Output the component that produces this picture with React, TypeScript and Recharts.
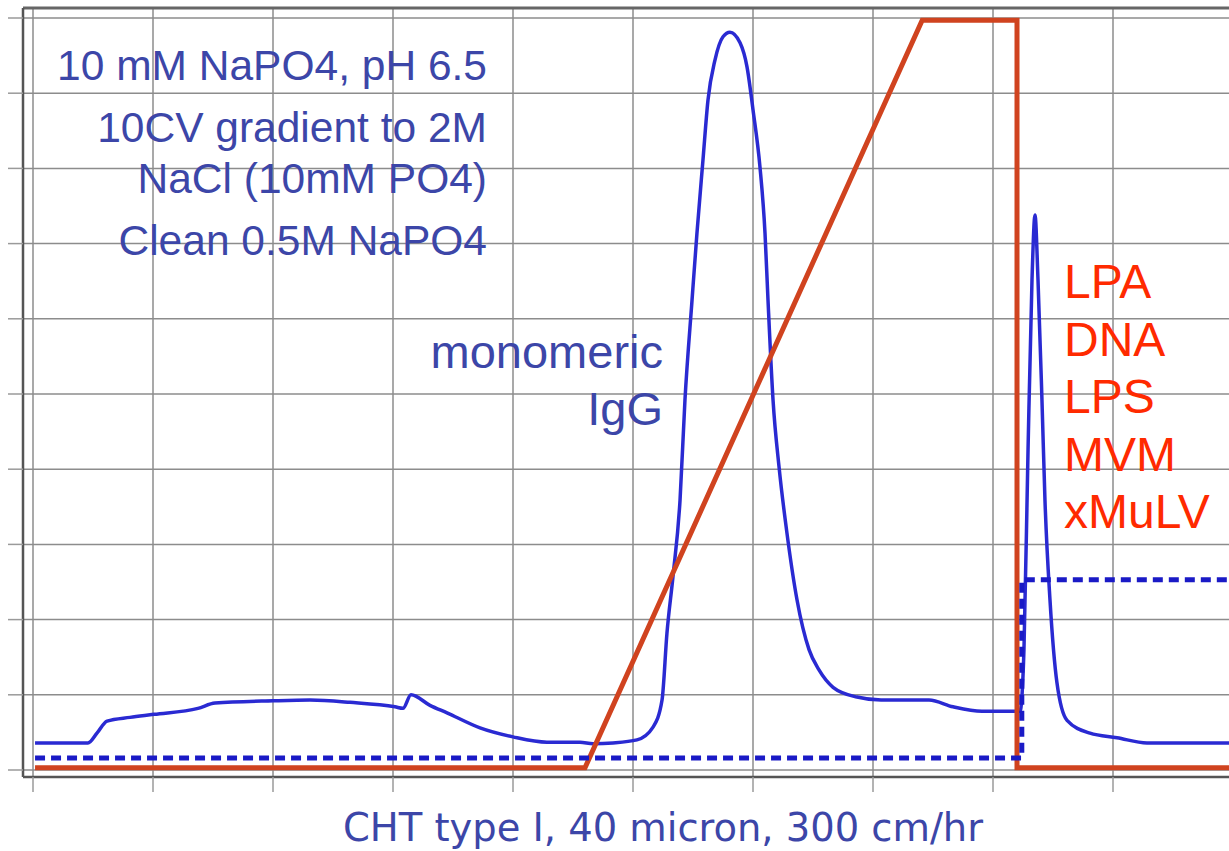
import React from 'react';
import { ComposedChart, Line, XAxis, YAxis, CartesianGrid, ReferenceLine } from 'recharts';

// x in column volumes (grid units), y in grid units
const uvX = [0.017, 0.458, 0.533, 0.617, 0.808, 1.008, 1.375, 1.517, 2.0, 2.308, 2.642, 3.017, 3.083, 3.15, 3.308, 3.45, 3.725, 4.0, 4.283, 4.558, 4.667, 4.833, 5.033, 5.167, 5.242, 5.283, 5.333, 5.392, 5.433, 5.492, 5.533, 5.583, 5.625, 5.683, 5.75, 5.808, 5.892, 5.95, 6.0, 6.058, 6.1, 6.125, 6.167, 6.217, 6.283, 6.367, 6.467, 6.55, 6.667, 6.867, 7.067, 7.467, 7.667, 7.908, 8.225, 8.258, 8.292, 8.325, 8.35, 8.375, 8.408, 8.433, 8.475, 8.533, 8.617, 8.808, 9.033, 9.283, 10.2];
const uvY = [0.36, 0.36, 0.49, 0.65, 0.7, 0.74, 0.82, 0.89, 0.92, 0.93, 0.9, 0.84, 0.82, 1.0, 0.86, 0.76, 0.56, 0.44, 0.37, 0.37, 0.35, 0.36, 0.4, 0.57, 0.93, 1.82, 2.57, 3.59, 4.92, 6.25, 7.14, 8.11, 8.91, 9.44, 9.75, 9.81, 9.67, 9.35, 8.78, 8.02, 7.14, 6.25, 4.92, 4.03, 3.15, 2.26, 1.6, 1.33, 1.1, 0.97, 0.93, 0.93, 0.84, 0.78, 0.78, 1.6, 4.26, 6.52, 7.38, 6.52, 4.92, 3.59, 2.26, 1.16, 0.66, 0.49, 0.43, 0.36, 0.36];

const gradX = [0.017, 4.6, 7.41, 8.2, 8.2, 10.2];
const gradY = [0.03, 0.03, 9.97, 9.97, 0.03, 0.03];

const condX = [0.017, 8.24, 8.24, 10.2];
const condY = [0.16, 0.16, 2.53, 2.53];

const xTicks = [0, 1, 2, 3, 4, 5, 6, 7, 8, 9, 10];
const yTicks = [0, 1, 2, 3, 4, 5, 6, 7, 8, 9, 10];

const bufferLines = ['10 mM NaPO4, pH 6.5', '10CV gradient to 2M', 'NaCl (10mM PO4)', 'Clean 0.5M NaPO4'];
const peakLabel = ['monomeric', 'IgG'];
const contaminants = ['LPA', 'DNA', 'LPS', 'MVM', 'xMuLV'];
const title = 'CHT type I, 40 micron, 300 cm/hr';

const uvData = uvX.map((x, i) => ({ x, y: uvY[i] }));
const gradData = gradX.map((x, i) => ({ x, y: gradY[i] }));
const condData = condX.map((x, i) => ({ x, y: condY[i] }));

const X_MIN = -10 / 120;
const X_MAX = X_MIN + 1237 / 120;
const Y_MIN = -7 / 75.2;
const Y_MAX = Y_MIN + 769 / 75.2;

const TEXT_BLUE = '#3c46a8';
const RED_TEXT = '#ff2a00';

export default function App() {
  const bufferBaselines = [80, 142, 193, 255];
  const peakBaselines = [368, 425];
  const contBaselines = [298, 356, 413, 471, 528];
  return (
    <div style={{ position: 'absolute', left: 0, top: 0, width: 1229, height: 851, overflow: 'hidden', background: '#fff' }}>
      <ComposedChart width={1260} height={851} margin={{ top: 8, right: 0, bottom: 0, left: 8 }}>
        <CartesianGrid stroke="#8c8c8c" strokeWidth={1.5} horizontalValues={yTicks} verticalValues={xTicks} />
        <XAxis
          type="number"
          dataKey="x"
          domain={[X_MIN, X_MAX]}
          ticks={xTicks}
          allowDataOverflow
          height={74}
          tickSize={15}
          tickFormatter={() => ''}
          axisLine={{ stroke: '#555', strokeWidth: 2.5 }}
          tickLine={{ stroke: '#9a9a9a', strokeWidth: 1.5 }}
        />
        <YAxis
          type="number"
          dataKey="y"
          domain={[Y_MIN, Y_MAX]}
          ticks={yTicks}
          allowDataOverflow
          width={15}
          tickSize={15}
          tickFormatter={() => ''}
          axisLine={{ stroke: '#555', strokeWidth: 2.5 }}
          tickLine={{ stroke: '#9a9a9a', strokeWidth: 1.5 }}
        />
        <ReferenceLine y={Y_MAX} stroke="#666" strokeWidth={3} />
        <Line data={uvData} dataKey="y" type="monotone" stroke="#2a2ad2" strokeWidth={3.5} dot={false} isAnimationActive={false} />
        <Line data={gradData} dataKey="y" type="linear" stroke="#d0431f" strokeWidth={5} dot={false} isAnimationActive={false} />
        <Line data={condData} dataKey="y" type="linear" stroke="#1a1ac6" strokeWidth={5} strokeDasharray="10 6" dot={false} isAnimationActive={false} />
      </ComposedChart>
      <svg width={1229} height={851} style={{ position: 'absolute', left: 0, top: 0, pointerEvents: 'none' }}>
        <g fontFamily="'Liberation Sans', Arial, sans-serif" fill={TEXT_BLUE} fontSize={42.5} textAnchor="end">
          {bufferLines.map((t, i) => (
            <text key={t} x={487} y={bufferBaselines[i]}>{t}</text>
          ))}
        </g>
        <g fontFamily="'Liberation Sans', Arial, sans-serif" fill={TEXT_BLUE} fontSize={47} textAnchor="end">
          {peakLabel.map((t, i) => (
            <text key={t} x={663} y={peakBaselines[i]}>{t}</text>
          ))}
        </g>
        <g fontFamily="'Liberation Sans', Arial, sans-serif" fill={RED_TEXT} fontSize={48} textAnchor="start">
          {contaminants.map((t, i) => (
            <text key={t} x={1064} y={contBaselines[i]}>{t}</text>
          ))}
        </g>
        <text x={343} y={841} textLength={640} lengthAdjust="spacingAndGlyphs" fontFamily="'DejaVu Sans Condensed', 'DejaVu Sans', sans-serif" fontSize={39} fill={TEXT_BLUE}>{title}</text>
      </svg>
    </div>
  );
}
